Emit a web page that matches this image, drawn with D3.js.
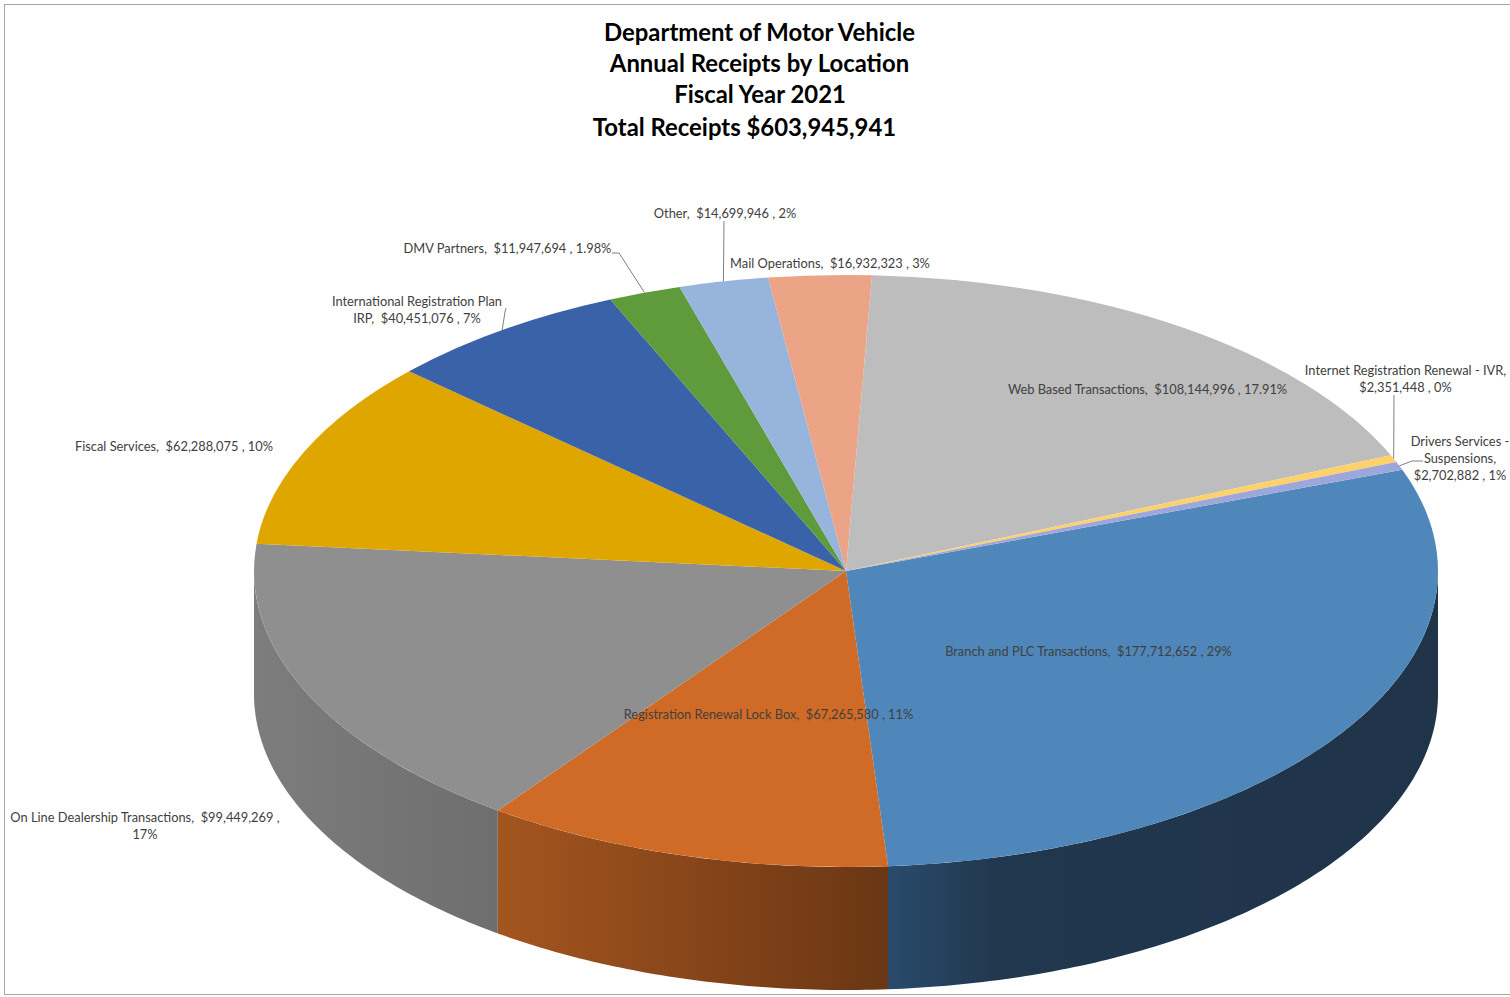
<!DOCTYPE html>
<html><head><meta charset="utf-8">
<script src="https://cdn.jsdelivr.net/npm/d3@7"></script>
<style>body{margin:0;background:#fff;overflow:hidden} svg{display:block} text{white-space:pre}</style>
</head><body>
<svg id="chart" width="1510" height="997"></svg>
<script>
// ---------- data ----------
const categories = [
  "Branch and PLC Transactions",
  "Registration Renewal Lock Box",
  "On Line Dealership Transactions",
  "Fiscal Services",
  "International Registration Plan IRP",
  "DMV Partners",
  "Other",
  "Mail Operations",
  "Web Based Transactions",
  "Internet Registration Renewal - IVR",
  "Drivers Services - Suspensions"
];
const values = [177712652, 67265580, 99449269, 62288075, 40451076, 11947694, 14699946, 16932323, 108144996, 2351448, 2702882];
const pctLabels = ["29%", "11%", "17%", "10%", "7%", "1.98%", "2%", "3%", "17.91%", "0%", "1%"];
const titleLines = ["Department of Motor Vehicle", "Annual Receipts by Location", "Fiscal Year 2021", "Total Receipts $603,945,941"];

// ---------- styles / layout ----------
const topColors = ["#4f87ba", "#d06b27", "#8f8f8f", "#e0a600", "#3a62a9", "#5f9a3b", "#96b4dc", "#eba486", "#bdbdbd", "#ffd16b", "#9ea7db"];
const sideStops = [
  [["0", "#294b6c"], ["0.2", "#21374e"], ["1", "#1f3449"]],
  [["0", "#a4551f"], ["1", "#6a3614"]],
  [["0", "#7d7d7d"], ["1", "#6e6e6e"]],
  [["0", "#a08000"], ["1", "#806000"]],
  [["0", "#2a4a80"], ["1", "#203a66"]],
  [["0", "#4a7a2c"], ["1", "#3a6020"]],
  [["0", "#7090b0"], ["1", "#6080a0"]],
  [["0", "#c08060"], ["1", "#a06848"]],
  [["0", "#909090"], ["1", "#808080"]],
  [["0", "#d0a040"], ["1", "#b08830"]],
  [["0", "#7880b0"], ["1", "#6870a0"]]
];
const W = 1510, H = 997;
const cx = 846, cy = 571, rx = 592, ry = 296, depth = 123;
const startDeg = 70;
const labelLayout = [
  {cx: 1088.5, cy: 651, breaks: []},
  {cx: 768.5, cy: 714, breaks: []},
  {cx: 145, cy: 817, breaks: [47]},
  {cx: 174, cy: 446, breaks: []},
  {cx: 417, cy: 301, breaks: [31]},
  {cx: 507.5, cy: 248, breaks: []},
  {cx: 725, cy: 213, breaks: []},
  {cx: 830, cy: 263, breaks: []},
  {cx: 1147.5, cy: 389, breaks: []},
  {cx: 1405.5, cy: 370, breaks: [36]},
  {cx: 1460, cy: 441, breaks: [18, 31]}
];
// leader lines: start points (near label), ending at slice mid-edge
const leaders = [
  {i: 6, pts: [[724, 221]]},
  {i: 5, pts: [[612, 253], [619, 253]]},
  {i: 4, pts: [[506, 308], [505, 312]]},
  {i: 9, pts: [[1394, 395]]},
  {i: 10, pts: [[1423, 461], [1412, 461]]}
];

const svg = d3.select("#chart");
svg.append("rect").attr("x", 4.5).attr("y", 4.5).attr("width", W + 10).attr("height", H - 7)
  .attr("fill", "none").attr("stroke", "#a6a6a6").attr("stroke-width", 1);

const pie = d3.pie().sort(null).value(d => d)
  .startAngle(startDeg * Math.PI / 180)
  .endAngle(startDeg * Math.PI / 180 + 2 * Math.PI);
const arcs = pie(values);

const ex = d3.scaleLinear().domain([-1, 1]).range([cx - rx, cx + rx]);
const ey = d3.scaleLinear().domain([-1, 1]).range([cy - ry, cy + ry]);
const pt = (a, dz = 0) => [ex(Math.sin(a)), ey(-Math.cos(a)) + dz];

const defs = svg.append("defs");

// sides (front half only: angles between PI/2 and 3PI/2)
const sideG = svg.append("g");
const line = d3.line();
arcs.forEach((d, i) => {
  const s = Math.max(d.startAngle, Math.PI / 2);
  const e = Math.min(d.endAngle, 3 * Math.PI / 2);
  if (e <= s) return;
  const n = Math.max(8, Math.ceil((e - s) * 80));
  const angs = d3.range(n + 1).map(k => s + (e - s) * k / n);
  const topPts = angs.map(a => pt(a));
  const botPts = angs.slice().reverse().map(a => pt(a, depth));
  const xs = topPts.map(p => p[0]);
  const gid = "side" + i;
  const g = defs.append("linearGradient").attr("id", gid).attr("gradientUnits", "userSpaceOnUse")
    .attr("x1", d3.min(xs)).attr("x2", d3.max(xs)).attr("y1", 0).attr("y2", 0);
  sideStops[i].forEach(st => g.append("stop").attr("offset", st[0]).attr("stop-color", st[1]));
  sideG.append("path").attr("d", line(topPts.concat(botPts)) + "Z").attr("fill", `url(#${gid})`);
});

// tops
const arcGen = d3.arc().innerRadius(0).outerRadius(rx);
svg.append("g").attr("transform", `translate(${cx},${cy}) scale(1,${ry / rx})`)
  .selectAll("path").data(arcs).join("path")
  .attr("d", arcGen).attr("fill", (d, i) => topColors[i]);

// leader lines
leaders.forEach(L => {
  const d = arcs[L.i];
  const m = (d.startAngle + d.endAngle) / 2;
  svg.append("path").attr("d", line(L.pts.concat([pt(m)])))
    .attr("fill", "none").attr("stroke", "#808080").attr("stroke-width", 1);
});

// labels
const fmt = d3.format("$,");
const labelFont = "Lato, 'Open Sans', sans-serif";
const lblG = svg.append("g").attr("font-family", labelFont).attr("fill", "#404040");
const texts = [];
categories.forEach((c, i) => {
  const full = `${c},  ${fmt(values[i])} , ${pctLabels[i]}`;
  const lay = labelLayout[i];
  const cuts = [0].concat(lay.breaks, [full.length]);
  const lines = d3.range(cuts.length - 1).map(k => full.slice(cuts[k], cuts[k + 1]).trim());
  const t = lblG.append("text").attr("text-anchor", "middle").attr("dominant-baseline", "central")
    .attr("xml:space", "preserve");
  lines.forEach((ln, k) => t.append("tspan").attr("x", lay.cx).attr("y", lay.cy + k * 17).text(ln));
  texts.push(t);
});
// fit label size so the Fiscal Services label spans ~198px like the reference
lblG.attr("font-size", 13);
const w0 = texts[3].node().getComputedTextLength();
lblG.attr("font-size", (13 * 198 / w0).toFixed(2));

// title
const titleG = svg.append("g").attr("font-family", labelFont).attr("font-weight", "bold").attr("fill", "#000");
const titleCx = [759.5, 759.5, 760, 744.5];
const titleY = [31, 62, 93, 126];
const tts = titleLines.map((t, k) => titleG.append("text").attr("x", titleCx[k]).attr("y", titleY[k])
  .attr("text-anchor", "middle").attr("dominant-baseline", "central").text(t));
titleG.attr("font-size", 22);
const tw = tts[0].node().getComputedTextLength();
titleG.attr("font-size", (22 * 311 / tw).toFixed(2));
</script>
</body></html>
